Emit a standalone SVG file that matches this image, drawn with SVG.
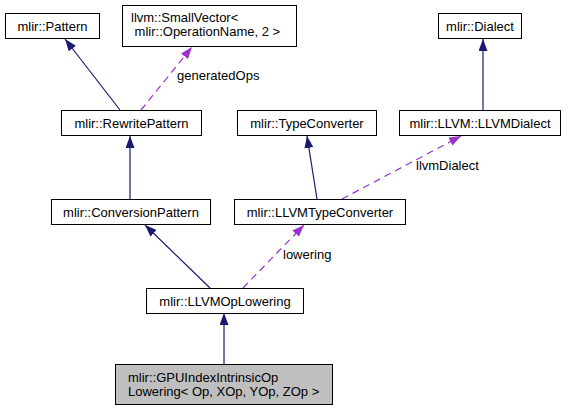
<svg xmlns="http://www.w3.org/2000/svg" width="573" height="411" viewBox="0 0 573 411">
<defs>
<style>
.n rect{fill:#fff;stroke:#000;stroke-width:1}
.n.g rect{fill:#bfbfbf}
text{font-family:"Liberation Sans",Arial,sans-serif;font-size:13px;fill:#000}
.c{text-anchor:middle}
.inh{stroke:#191970;stroke-width:1.2;fill:none;marker-end:url(#ab)}
.use{stroke:#9a32cd;stroke-width:1.2;fill:none;stroke-dasharray:7,5;marker-end:url(#ap)}
</style>
<marker id="ab" viewBox="0 0 12 9" refX="12" refY="4.5" markerWidth="12" markerHeight="9" markerUnits="userSpaceOnUse" orient="auto">
<path d="M0,0 L12,4.5 L0,9 z" fill="#191970"/>
</marker>
<marker id="ap" viewBox="0 0 12 9" refX="12" refY="4.5" markerWidth="12" markerHeight="9" markerUnits="userSpaceOnUse" orient="auto">
<path d="M0,0 L12,4.5 L0,9 z" fill="#9a32cd"/>
</marker>
</defs>
<rect width="573" height="411" fill="#fff"/>
<g id="edges">
<line class="inh" x1="120" y1="110" x2="65" y2="39"/>
<line class="use" x1="141" y1="110" x2="192" y2="47"/>
<text x="177" y="80">generatedOps</text>
<line class="inh" x1="130" y1="199" x2="130" y2="136"/>
<line class="inh" x1="317" y1="199" x2="307" y2="136"/>
<line class="use" x1="342" y1="199" x2="461" y2="136"/>
<text x="416" y="170">llvmDialect</text>
<line class="inh" x1="483" y1="110" x2="483" y2="39"/>
<line class="inh" x1="210" y1="288" x2="145" y2="225"/>
<line class="use" x1="243" y1="288" x2="304" y2="225"/>
<text x="283" y="259">lowering</text>
<line class="inh" x1="224" y1="364" x2="224" y2="313"/>
</g>
<g id="pattern" class="n"><rect x="5.5" y="13.5" width="94" height="25"/><text class="c" x="52.5" y="31">mlir::Pattern</text></g>
<g id="smallvector" class="n"><rect x="122.5" y="5.5" width="174" height="41"/><text x="131" y="21.5">llvm::SmallVector&lt;</text><text x="131" y="35.5" xml:space="preserve"> mlir::OperationName, 2 &gt;</text></g>
<g id="dialect" class="n"><rect x="438.5" y="13.5" width="83" height="25"/><text class="c" x="480" y="31">mlir::Dialect</text></g>
<g id="rewritepattern" class="n"><rect x="61.5" y="110.5" width="140" height="25"/><text class="c" x="131.5" y="128">mlir::RewritePattern</text></g>
<g id="typeconverter" class="n"><rect x="237.5" y="110.5" width="139" height="25"/><text class="c" x="307" y="128">mlir::TypeConverter</text></g>
<g id="llvmdialect" class="n"><rect x="399.5" y="110.5" width="161" height="25"/><text class="c" x="480" y="128">mlir::LLVM::LLVMDialect</text></g>
<g id="conversionpattern" class="n"><rect x="51.5" y="199.5" width="159" height="25"/><text class="c" x="131" y="217">mlir::ConversionPattern</text></g>
<g id="llvmtypeconverter" class="n"><rect x="234.5" y="199.5" width="171" height="25"/><text class="c" x="320" y="217">mlir::LLVMTypeConverter</text></g>
<g id="llvmoplowering" class="n"><rect x="146.5" y="288.5" width="157" height="25"/><text class="c" x="225" y="306">mlir::LLVMOpLowering</text></g>
<g id="gpuindex" class="n g"><rect x="115.5" y="364.5" width="217" height="40"/><text x="128" y="382">mlir::GPUIndexIntrinsicOp</text><text x="128" y="396">Lowering&lt; Op, XOp, YOp, ZOp &gt;</text></g>
</svg>
